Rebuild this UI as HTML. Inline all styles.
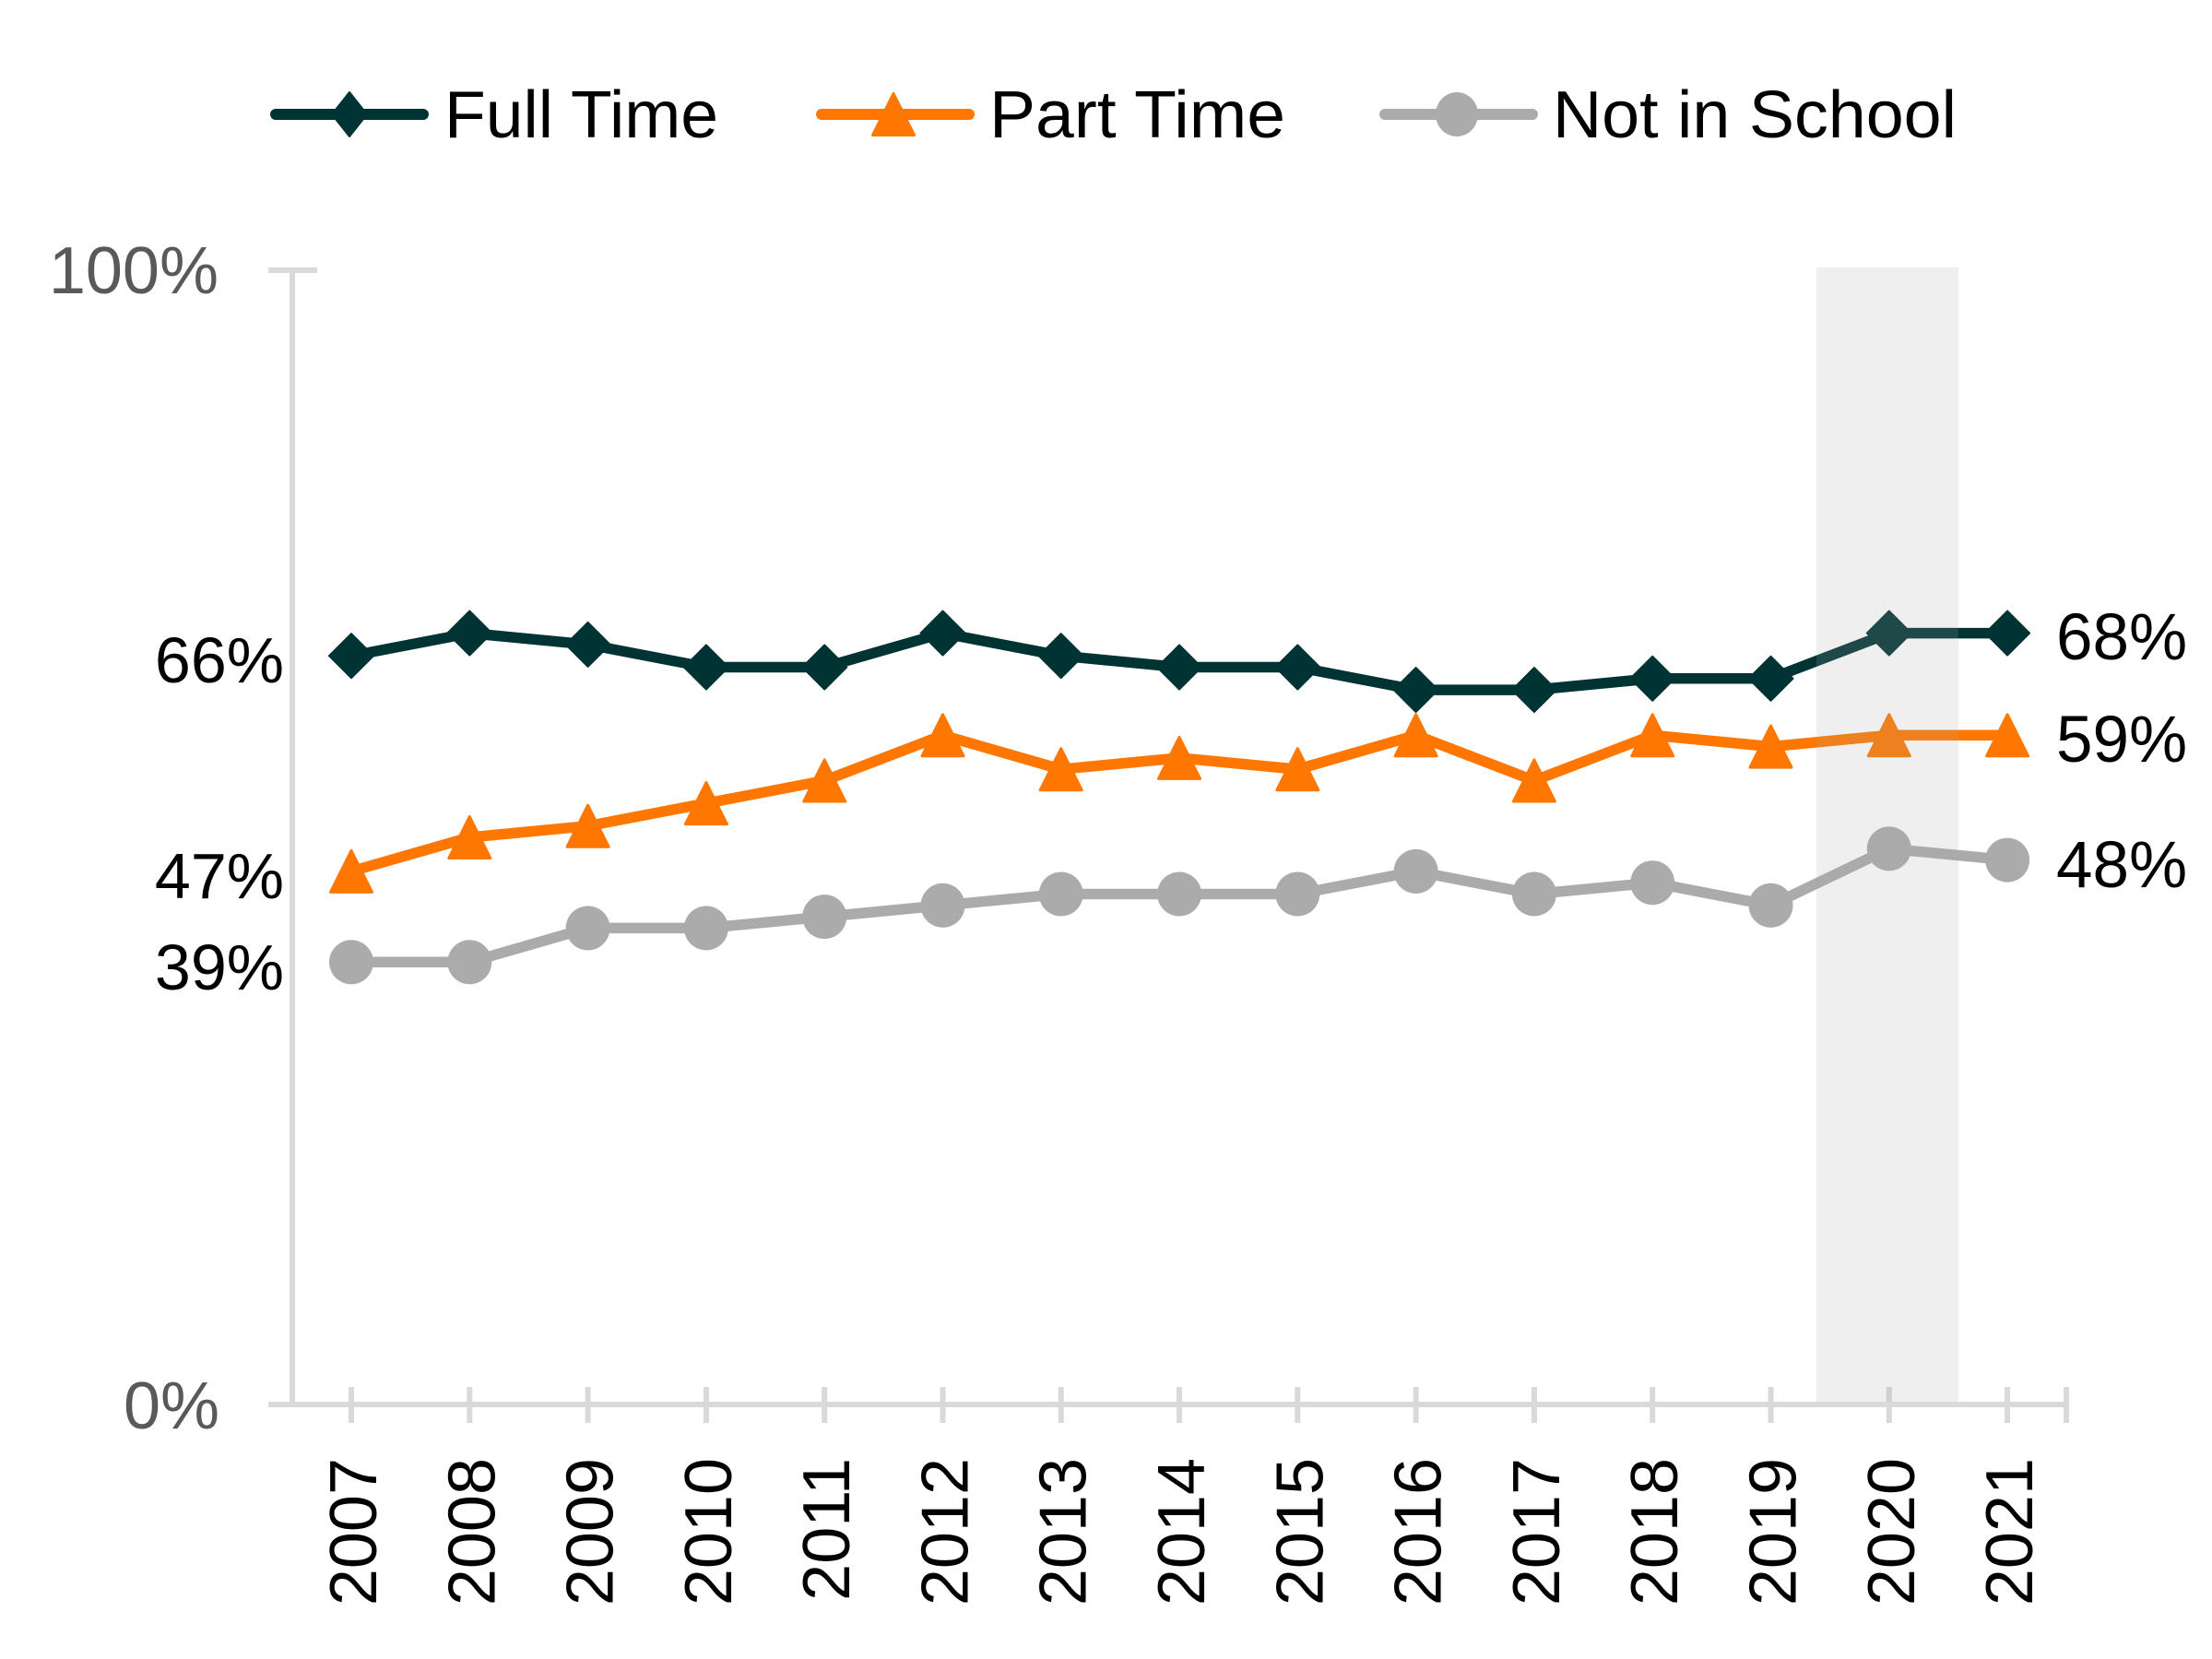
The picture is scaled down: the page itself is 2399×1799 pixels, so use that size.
<!DOCTYPE html>
<html>
<head>
<meta charset="utf-8">
<style>
html,body{margin:0;padding:0;background:#ffffff;}
svg{display:block;}
text{font-family:"Liberation Sans",Arial,sans-serif;}
</style>
</head>
<body>
<svg width="2399" height="1799" viewBox="0 0 2399 1799" xmlns="http://www.w3.org/2000/svg">
<defs>
  <path id="dia" d="M0,-24 L24,0 L0,24 L-24,0 Z" fill="#003333" stroke="#003333" stroke-width="2" stroke-linejoin="round"/>
  <path id="tri" d="M0,-22.5 L22.5,22.5 L-22.5,22.5 Z" fill="#FF7700" stroke="#FF7700" stroke-width="3" stroke-linejoin="round"/>
  <circle id="cir" cx="0" cy="0" r="24" fill="#ABABAB"/>
</defs>
<rect x="0" y="0" width="2399" height="1799" fill="#ffffff"/>

<!-- Legend -->
<line x1="299" y1="124" x2="459" y2="124" stroke="#003333" stroke-width="12" stroke-linecap="round"/>
<path d="M379,100 L398,124 L379,148 L360,124 Z" fill="#003333" stroke="#003333" stroke-width="2" stroke-linejoin="round"/>
<text x="482" y="149" font-size="72" fill="#000000" textLength="297" lengthAdjust="spacingAndGlyphs">Full Time</text>

<line x1="891" y1="124" x2="1051" y2="124" stroke="#FF7700" stroke-width="12" stroke-linecap="round"/>
<use href="#tri" x="969" y="124"/>
<text x="1073" y="149" font-size="72" fill="#000000" textLength="321" lengthAdjust="spacingAndGlyphs">Part Time</text>

<line x1="1502" y1="124" x2="1662" y2="124" stroke="#ABABAB" stroke-width="12" stroke-linecap="round"/>
<ellipse cx="1580" cy="124" rx="23" ry="24" fill="#ABABAB"/>
<text x="1684" y="149" font-size="72" fill="#000000" textLength="438" lengthAdjust="spacingAndGlyphs">Not in School</text>

<!-- Axes -->
<line x1="317" y1="293" x2="317" y2="1523" stroke="#D9D9D9" stroke-width="6"/>
<line x1="291" y1="293" x2="344" y2="293" stroke="#D9D9D9" stroke-width="6"/>
<line x1="291" y1="1523" x2="2244" y2="1523" stroke="#D9D9D9" stroke-width="6"/>
<g stroke="#D9D9D9" stroke-width="6">
  <line x1="381" y1="1504" x2="381" y2="1543"/>
  <line x1="509.3" y1="1504" x2="509.3" y2="1543"/>
  <line x1="637.6" y1="1504" x2="637.6" y2="1543"/>
  <line x1="765.9" y1="1504" x2="765.9" y2="1543"/>
  <line x1="894.2" y1="1504" x2="894.2" y2="1543"/>
  <line x1="1022.5" y1="1504" x2="1022.5" y2="1543"/>
  <line x1="1150.7" y1="1504" x2="1150.7" y2="1543"/>
  <line x1="1279" y1="1504" x2="1279" y2="1543"/>
  <line x1="1407.3" y1="1504" x2="1407.3" y2="1543"/>
  <line x1="1535.6" y1="1504" x2="1535.6" y2="1543"/>
  <line x1="1663.9" y1="1504" x2="1663.9" y2="1543"/>
  <line x1="1792.2" y1="1504" x2="1792.2" y2="1543"/>
  <line x1="1920.5" y1="1504" x2="1920.5" y2="1543"/>
  <line x1="2048.8" y1="1504" x2="2048.8" y2="1543"/>
  <line x1="2177.1" y1="1504" x2="2177.1" y2="1543"/>
  <line x1="2241" y1="1504" x2="2241" y2="1543"/>
</g>

<!-- Y labels -->
<text x="237" y="318" font-size="72" fill="#595959" text-anchor="end">100%</text>
<text x="238" y="1549" font-size="72" fill="#595959" text-anchor="end">0%</text>
<text x="308" y="740" font-size="70" fill="#000000" text-anchor="end">66%</text>
<text x="308" y="974" font-size="70" fill="#000000" text-anchor="end">47%</text>
<text x="308" y="1073" font-size="70" fill="#000000" text-anchor="end">39%</text>

<!-- X labels -->
<g font-size="72" fill="#000000" text-anchor="end">
  <text transform="translate(408,1581) rotate(-90)">2007</text>
  <text transform="translate(536.3,1581) rotate(-90)">2008</text>
  <text transform="translate(664.6,1581) rotate(-90)">2009</text>
  <text transform="translate(792.9,1581) rotate(-90)">2010</text>
  <text transform="translate(921.2,1581) rotate(-90)">2011</text>
  <text transform="translate(1049.5,1581) rotate(-90)">2012</text>
  <text transform="translate(1177.7,1581) rotate(-90)">2013</text>
  <text transform="translate(1306,1581) rotate(-90)">2014</text>
  <text transform="translate(1434.3,1581) rotate(-90)">2015</text>
  <text transform="translate(1562.6,1581) rotate(-90)">2016</text>
  <text transform="translate(1690.9,1581) rotate(-90)">2017</text>
  <text transform="translate(1819.2,1581) rotate(-90)">2018</text>
  <text transform="translate(1947.5,1581) rotate(-90)">2019</text>
  <text transform="translate(2075.8,1581) rotate(-90)">2020</text>
  <text transform="translate(2204.1,1581) rotate(-90)">2021</text>
</g>

<!-- Full Time -->
<polyline fill="none" stroke="#003333" stroke-width="11.5" stroke-linejoin="round"
 points="381,711.2 509.3,686.6 637.6,698.9 765.9,723.5 894.2,723.5 1022.5,686.6 1150.7,711.2 1279,723.5 1407.3,723.5 1535.6,748.1 1663.9,748.1 1792.2,735.8 1920.5,735.8 2048.8,686.6 2177.1,686.6"/>
<use href="#dia" x="381" y="711.2"/>
<use href="#dia" x="509.3" y="686.6"/>
<use href="#dia" x="637.6" y="698.9"/>
<use href="#dia" x="765.9" y="723.5"/>
<use href="#dia" x="894.2" y="723.5"/>
<use href="#dia" x="1022.5" y="686.6"/>
<use href="#dia" x="1150.7" y="711.2"/>
<use href="#dia" x="1279" y="723.5"/>
<use href="#dia" x="1407.3" y="723.5"/>
<use href="#dia" x="1535.6" y="748.1"/>
<use href="#dia" x="1663.9" y="748.1"/>
<use href="#dia" x="1792.2" y="735.8"/>
<use href="#dia" x="1920.5" y="735.8"/>
<use href="#dia" x="2048.8" y="686.6"/>
<use href="#dia" x="2177.1" y="686.6"/>

<!-- Part Time -->
<polyline fill="none" stroke="#FF7700" stroke-width="11.5" stroke-linejoin="round"
 points="381,944.9 509.3,908 637.6,895.7 765.9,871.1 894.2,846.5 1022.5,797.3 1150.7,834.2 1279,821.9 1407.3,834.2 1535.6,797.3 1663.9,846.5 1792.2,797.3 1920.5,809.6 2048.8,797.3 2177.1,797.3"/>
<use href="#tri" x="381" y="944.9"/>
<use href="#tri" x="509.3" y="908"/>
<use href="#tri" x="637.6" y="895.7"/>
<use href="#tri" x="765.9" y="871.1"/>
<use href="#tri" x="894.2" y="846.5"/>
<use href="#tri" x="1022.5" y="797.3"/>
<use href="#tri" x="1150.7" y="834.2"/>
<use href="#tri" x="1279" y="821.9"/>
<use href="#tri" x="1407.3" y="834.2"/>
<use href="#tri" x="1535.6" y="797.3"/>
<use href="#tri" x="1663.9" y="846.5"/>
<use href="#tri" x="1792.2" y="797.3"/>
<use href="#tri" x="1920.5" y="809.6"/>
<use href="#tri" x="2048.8" y="797.3"/>
<use href="#tri" x="2177.1" y="797.3"/>

<!-- Not in School -->
<polyline fill="none" stroke="#ABABAB" stroke-width="11.5" stroke-linejoin="round"
 points="381,1043.3 509.3,1043.3 637.6,1006.4 765.9,1006.4 894.2,994.1 1022.5,981.8 1150.7,969.5 1279,969.5 1407.3,969.5 1535.6,944.9 1663.9,969.5 1792.2,957.2 1920.5,981.8 2048.8,920.3 2177.1,932.6"/>
<use href="#cir" x="381" y="1043.3"/>
<use href="#cir" x="509.3" y="1043.3"/>
<use href="#cir" x="637.6" y="1006.4"/>
<use href="#cir" x="765.9" y="1006.4"/>
<use href="#cir" x="894.2" y="994.1"/>
<use href="#cir" x="1022.5" y="981.8"/>
<use href="#cir" x="1150.7" y="969.5"/>
<use href="#cir" x="1279" y="969.5"/>
<use href="#cir" x="1407.3" y="969.5"/>
<use href="#cir" x="1535.6" y="944.9"/>
<use href="#cir" x="1663.9" y="969.5"/>
<use href="#cir" x="1792.2" y="957.2"/>
<use href="#cir" x="1920.5" y="981.8"/>
<use href="#cir" x="2048.8" y="920.3"/>
<use href="#cir" x="2177.1" y="932.6"/>

<!-- Shaded 2020 overlay -->
<rect x="1970" y="290" width="154" height="1230" fill="#A8A8A8" fill-opacity="0.184"/>

<!-- End labels -->
<text x="2230" y="715" font-size="71" fill="#000000">68%</text>
<text x="2230" y="826" font-size="71" fill="#000000">59%</text>
<text x="2230" y="962" font-size="71" fill="#000000">48%</text>
</svg>
</body>
</html>
